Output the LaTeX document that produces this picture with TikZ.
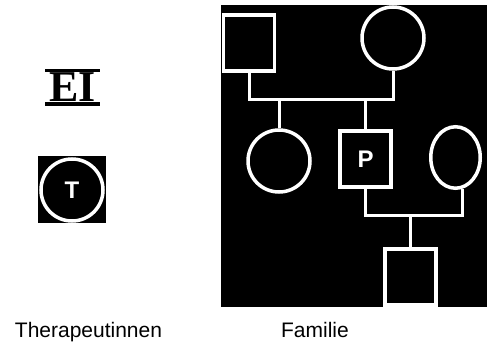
\documentclass[tikz,border=0pt]{standalone}
\usepackage{fontspec}
\usetikzlibrary{shapes.geometric}
\setmainfont{Liberation Sans}
\newfontfamily\eifont{Liberation Serif}
\begin{document}
\begin{tikzpicture}[x=1pt,y=-1pt,
  shapeline/.style={draw=white,line width=3.5pt},
  male/.style={shapeline,rectangle,minimum width=51pt,minimum height=56pt,inner sep=0pt},
  female/.style={shapeline,circle,minimum size=62pt,inner sep=0pt},
  letter/.style={text=white,font=\bfseries\fontsize{24}{24}\selectfont},
  link/.style={draw=white,line width=3pt},
  caption/.style={font=\fontsize{21}{24}\selectfont,anchor=base}]
\useasboundingbox (0,0) rectangle (487,342);
\clip (0,0) rectangle (487,342);
% family background
\fill[black] (221,5) rectangle (487,307);
\node[male] (f1) at (249,43) {};
\node[female] (m1) at (393,38) {};
\node[female] (d1) at (279,161) {};
\node[male,letter] (p) at (365.5,159) {P};
\node[shapeline,ellipse,minimum width=49.5pt,minimum height=61.5pt,inner sep=0pt] (w) at (455.5,157.5) {};
\node[male] (s) at (410.5,277) {};
\coordinate (bar1) at (321,99.5);
\coordinate (bar2) at (413,215.5);
\draw[link] (f1.south) |- (bar1) -| (m1.south);
\draw[link] (d1.north) -- (d1.north |- bar1);
\draw[link] (p.north) -- (p.north |- bar1);
\draw[link] (p.south) |- (bar2) -| (w.-78);
\draw[link] (s.north) -- (s.north |- bar2);
% therapist symbol
\fill[black] (38,156) rectangle (106,223);
\node[female,letter] (t) at (72,190) {T};
% EI symbol
\node[inner sep=0pt,anchor=base,font=\eifont\bfseries\fontsize{44}{44}\selectfont] (ei) at (72.5,102) {EI};
\fill[black] (45,102.5) rectangle (100,106);
\fill[black] (45,69) rectangle (100,72.5);
% captions
\node[caption] (cap1) at (88.5,337) {Therapeutinnen};
\node[caption] (cap2) at (315,337) {Familie};
\end{tikzpicture}
\end{document}
